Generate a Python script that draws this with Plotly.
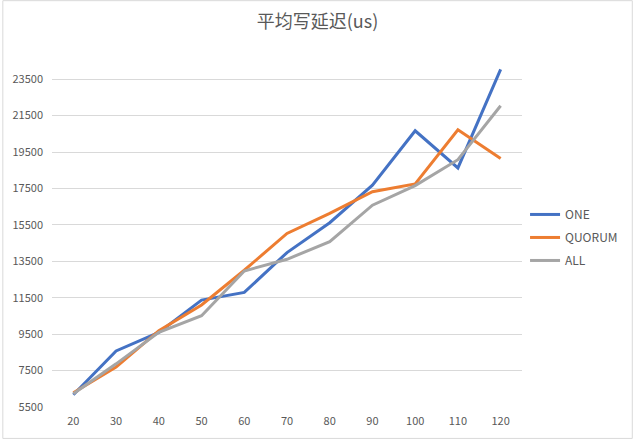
import plotly.graph_objects as go

threads = ['20', '30', '40', '50', '60', '70', '80', '90', '100', '110', '120']
one = [6170, 8580, 9600, 11370, 11790, 13980, 15620, 17680, 20670, 18630, 24040]
quorum = [6280, 7690, 9690, 11100, 13010, 15030, 16130, 17320, 17750, 20720, 19140]
all_ = [6230, 7870, 9600, 10510, 12970, 13610, 14580, 16580, 17660, 19080, 22040]
y_ticks = [5500, 7500, 9500, 11500, 13500, 15500, 17500, 19500, 21500, 23500]

series = [
    ('ONE', one, '#4472C4'),
    ('QUORUM', quorum, '#ED7D31'),
    ('ALL', all_, '#A5A5A5'),
]

fig = go.Figure()
for name, vals, color in series:
    fig.add_trace(go.Scatter(
        name=name,
        legendgroup=name,
        x=threads,
        y=vals,
        mode='lines',
        line=dict(color=color, width=3),
    ))

fig.update_layout(
    width=635, height=440,
    template='plotly_white',
    paper_bgcolor='white',
    plot_bgcolor='white',
    margin=dict(l=50, r=112, t=61, b=32),
    font=dict(family='Noto Sans CJK SC, Noto Sans, sans-serif', color='#595959', size=11),
    title=dict(text='平均写延迟(us)', x=0.5, xref='container', y=0.95, yanchor='middle',
               font=dict(size=18, color='#595959')),
    legend=dict(x=1.215, y=0.49, xanchor='right', yanchor='middle',
                font=dict(size=12, color='#595959'), tracegroupgap=4,
                itemwidth=30),
    showlegend=True,
)
fig.update_xaxes(type='category', range=[-0.5, 10.5], showgrid=False, showline=False,
                 ticks='', ticklabelstandoff=6,
                 tickfont=dict(size=11, color='#595959'))
fig.update_yaxes(range=[5500, 24500], tickvals=y_ticks, tickformat='d', showgrid=True,
                 gridcolor='#D9D9D9', gridwidth=1, zeroline=False, showline=False,
                 ticklabelstandoff=8, tickfont=dict(size=11, color='#595959'))
fig.add_shape(type='rect', xref='paper', yref='paper', x0=-49.5 / 473, x1=1 + 111 / 473,
              y0=-31.5 / 347, y1=1 + 60.5 / 347, line=dict(color='#D9D9D9', width=1))

fig.write_html("out.html", config={'displayModeBar': False},
               post_script="document.body.style.margin='0';")
